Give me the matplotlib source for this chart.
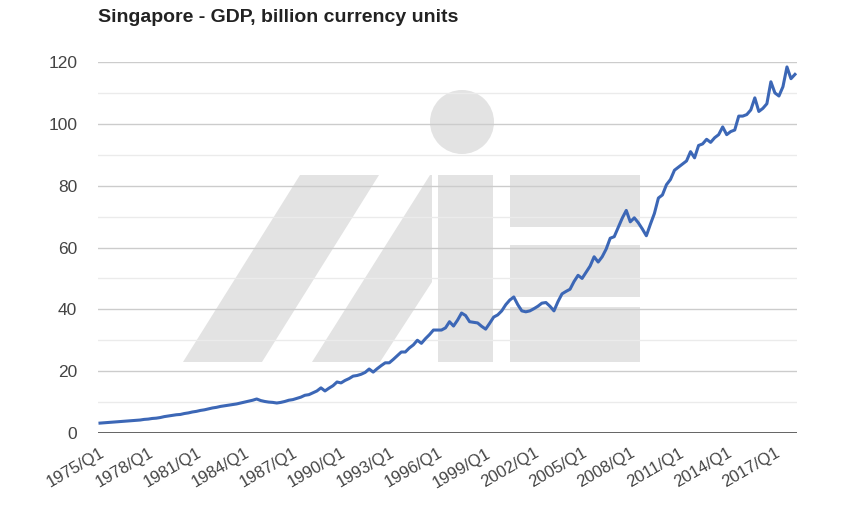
import matplotlib
matplotlib.use("Agg")
import matplotlib.pyplot as plt
from matplotlib.patches import Polygon, Ellipse, Rectangle

plt.rcParams['font.family'] = ['Liberation Sans', 'DejaVu Sans']

title = "Singapore - GDP, billion currency units"
start_year = 1975
gdp = [
    3.2, 3.3, 3.4, 3.5,        # 1975
    3.6, 3.7, 3.8, 3.9,        # 1976
    4.0, 4.1, 4.2, 4.4,        # 1977
    4.5, 4.7, 4.8, 5.0,        # 1978
    5.3, 5.5, 5.7, 5.9,        # 1979
    6.0, 6.3, 6.5, 6.8,        # 1980
    7.0, 7.3, 7.5, 7.8,        # 1981
    8.1, 8.3, 8.6, 8.8,        # 1982
    9.0, 9.2, 9.4, 9.7,        # 1983
    10.0, 10.3, 10.6, 11.0,    # 1984
    10.5, 10.2, 10.0, 9.9,     # 1985
    9.7, 9.9, 10.2, 10.6,      # 1986
    10.8, 11.2, 11.6, 12.2,    # 1987
    12.4, 13.0, 13.6, 14.6,    # 1988
    13.6, 14.5, 15.3, 16.5,    # 1989
    16.2, 17.0, 17.6, 18.4,    # 1990
    18.6, 19.0, 19.6, 20.7,    # 1991
    19.7, 20.8, 21.8, 22.7,    # 1992
    22.7, 23.8, 25.0, 26.2,    # 1993
    26.2, 27.5, 28.5, 30.0,    # 1994
    29.0, 30.5, 31.8, 33.3,    # 1995
    33.3, 33.3, 34.0, 36.0,    # 1996
    34.6, 36.5, 38.8, 38.0,    # 1997
    36.0, 35.8, 35.6, 34.5,    # 1998
    33.6, 35.5, 37.5, 38.2,    # 1999
    39.5, 41.5, 43.0, 44.0,    # 2000
    41.5, 39.5, 39.2, 39.5,    # 2001
    40.2, 41.0, 42.0, 42.2,    # 2002
    41.0, 39.5, 42.5, 45.0,    # 2003
    45.8, 46.5, 49.0, 51.0,    # 2004
    50.0, 52.0, 54.0, 57.0,    # 2005
    55.3, 57.0, 59.5, 63.0,    # 2006
    63.5, 66.5, 69.5, 72.0,    # 2007
    68.3, 69.6, 68.0, 66.0,    # 2008
    63.8, 67.5, 71.0, 76.0,    # 2009
    77.0, 80.3, 82.0, 85.0,    # 2010
    86.0, 87.0, 88.0, 91.0,    # 2011
    89.0, 93.0, 93.5, 95.0,    # 2012
    94.0, 95.5, 96.5, 99.0,    # 2013
    96.5, 97.5, 98.0, 102.5,   # 2014
    102.5, 103.0, 104.5, 108.4,  # 2015
    104.0, 105.0, 106.5, 113.6,  # 2016
    110.0, 109.0, 112.0, 118.4,  # 2017
    114.6, 116.0,              # 2018
]
labels = [f"{start_year + i // 4}/Q{i % 4 + 1}" for i in range(len(gdp))]
tick_every = 12
y_major = [0, 20, 40, 60, 80, 100, 120]
y_minor = [10, 30, 50, 70, 90, 110]

W, H = 843, 507
fig = plt.figure(figsize=(W / 100, H / 100), dpi=100)

# background watermark (figure pixel coordinates, y measured from top)
def fp(x, y):
    return (x / W, 1 - y / H)

wm = "#e3e3e3"
wm_shapes = [
    [(183, 362), (262, 362), (379, 175), (300, 175)],
    [(312, 362), (380, 362), (432, 282), (432, 175), (430, 175)],
]
for poly in wm_shapes:
    fig.patches.append(Polygon([fp(*p) for p in poly], closed=True, transform=fig.transFigure,
                               facecolor=wm, edgecolor="none", zorder=0))
for (x0, y0, x1, y1) in [(438, 175, 493, 362), (510, 175, 640, 227), (510, 245, 640, 297),
                         (510, 307, 640, 362)]:
    fig.patches.append(Rectangle(fp(x0, y1), (x1 - x0) / W, (y1 - y0) / H, transform=fig.transFigure,
                                 facecolor=wm, edgecolor="none", zorder=0))
fig.patches.append(Ellipse(fp(462, 122), 64 / W, 64 / H, transform=fig.transFigure,
                           facecolor=wm, edgecolor="none", zorder=0))

ax = fig.add_axes([98 / W, 1 - 433 / H, (797 - 98) / W, (433 - 62) / H])
ax.set_zorder(2)
ax.patch.set_visible(False)
x = list(range(len(gdp)))
ax.plot(x, gdp, color="#3c67b6", lw=2.2, zorder=3, solid_joinstyle="round")

ax.set_xlim(-0.5, len(gdp) - 0.5)
ax.set_ylim(0, 120)
for v in y_minor:
    ax.axhline(v, color="#ebebeb", lw=1.0, zorder=1)
for v in y_major[1:]:
    ax.axhline(v, color="#cccccc", lw=1.0, zorder=1)
ax.axhline(0, color="#555555", lw=2.0, zorder=2)

ax.set_yticks(y_major)
ax.set_yticklabels([str(v) for v in y_major])
tick_pos = x[::tick_every]
ax.set_xticks(tick_pos)
ax.set_xticklabels([labels[i] for i in tick_pos], rotation=30, ha="right", rotation_mode="anchor")
ax.tick_params(axis="both", length=0, labelcolor="#444444")
ax.tick_params(axis="y", labelsize=12.5, pad=15)
ax.tick_params(axis="x", labelsize=12, pad=9)
for s in ax.spines.values():
    s.set_visible(False)

fig.text(98 / W, 1 - 18 / H, title, fontsize=14, fontweight="bold", color="#222222",
         ha="left", va="center")

fig.savefig("out.png", dpi=100)
